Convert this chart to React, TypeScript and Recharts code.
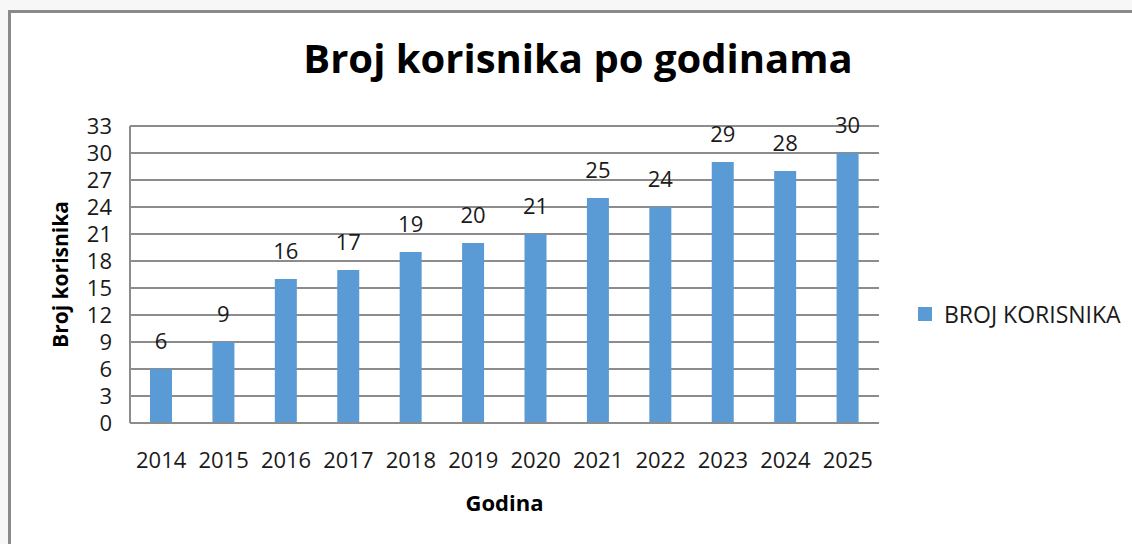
import React from "react";
import {
  BarChart,
  Bar,
  XAxis,
  YAxis,
  CartesianGrid,
  LabelList,
  Legend,
  Label
} from "recharts";

const godine = ["2014", "2015", "2016", "2017", "2018", "2019", "2020", "2021", "2022", "2023", "2024", "2025"];
const brojKorisnika = [6, 9, 16, 17, 19, 20, 21, 25, 24, 29, 28, 30];
const yTicks = [0, 3, 6, 9, 12, 15, 18, 21, 24, 27, 30, 33];

const chartData = godine.map((g, i) => ({ godina: g, korisnici: brojKorisnika[i] }));

const FONT = "'Open Sans', sans-serif";
const GRID = "#8c8c8c";
const BAR = "#5b9bd5";

const YLabel = ({ viewBox }: any) => {
  const x = viewBox.x + 20;
  const y = viewBox.y + viewBox.height / 2;
  return (
    <text
      x={x}
      y={y}
      transform={`rotate(-90, ${x}, ${y})`}
      textAnchor="middle"
      dominantBaseline="central"
      fontFamily={FONT}
      fontWeight={700}
      fontSize={21}
      fill="#000"
    >
      Broj korisnika
    </text>
  );
};

const LegendBox = ({ payload }: any) => (
  <div style={{ display: "flex", alignItems: "center", fontFamily: FONT }}>
    {(payload || []).map((p: any) => (
      <div key={p.value} style={{ display: "flex", alignItems: "center" }}>
        <span style={{ width: 14, height: 14, background: BAR, marginRight: 12 }} />
        <span style={{ fontSize: 23, color: "#1a1a1a", whiteSpace: "nowrap" }}>{p.value}</span>
      </div>
    ))}
  </div>
);

// legend sits on the right and recharts reserves its width (214), so right margin = 253 - 214
export default function App() {
  return (
    <div style={{ position: "absolute", left: 0, top: 0, width: 1132, height: 544, background: "#f7f7f7", overflow: "hidden" }}>
      <div
        style={{
          position: "absolute",
          left: 8,
          top: 10,
          width: 1140,
          height: 560,
          background: "#fff",
          borderTop: "3px solid #8a8a8a",
          borderLeft: "3px solid #8a8a8a"
        }}
      />
      <div
        style={{
          position: "absolute",
          left: 0,
          top: 30,
          width: 1156,
          textAlign: "center",
          fontFamily: FONT,
          fontWeight: 700,
          fontSize: 40,
          color: "#000"
        }}
      >
        Broj korisnika po godinama
      </div>
      <div style={{ position: "absolute", left: 0, top: 0 }}>
        <BarChart
          width={1132}
          height={544}
          data={chartData}
          margin={{ top: 126, right: 39, left: 40, bottom: 31 }}
          barSize={22}
        >
          <CartesianGrid vertical={false} stroke={GRID} strokeWidth={2} />
          <XAxis
            dataKey="godina"
            height={90}
            axisLine={{ stroke: GRID, strokeWidth: 2 }}
            tickLine={false}
            tickSize={0}
            tickMargin={29}
            interval={0}
            tick={{ fontSize: 22, fill: "#1a1a1a", fontFamily: FONT }}
          >
            <Label
              value="Godina"
              position="insideBottom"
              offset={2}
              fontFamily={FONT}
              fontWeight={700}
              fontSize={22}
              fill="#000"
            />
          </XAxis>
          <YAxis
            width={90}
            domain={[0, 33]}
            ticks={yTicks}
            interval={0}
            axisLine={{ stroke: GRID, strokeWidth: 2 }}
            tickLine={false}
            tickSize={0}
            tickMargin={18}
            tick={{ fontSize: 22, fill: "#1a1a1a", fontFamily: FONT }}
            label={<YLabel />}
          />
          <Legend
            layout="horizontal"
            verticalAlign="middle"
            align="right"
            content={<LegendBox />}
            wrapperStyle={{ left: 918, top: 298, width: 214, height: 32 }}
          />
          <Bar dataKey="korisnici" name="BROJ KORISNIKA" fill={BAR} isAnimationActive={false}>
            <LabelList
              dataKey="korisnici"
              position="top"
              offset={20}
              fill="#1a1a1a"
              fontSize={22}
              fontFamily={FONT}
            />
          </Bar>
        </BarChart>
      </div>
    </div>
  );
}
